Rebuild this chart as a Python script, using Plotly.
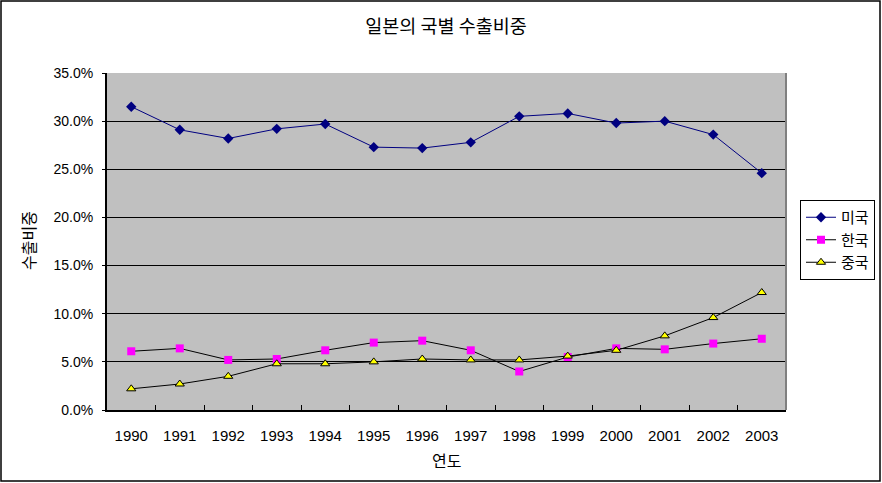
import plotly.graph_objects as go

years = ["1990", "1991", "1992", "1993", "1994", "1995", "1996",
         "1997", "1998", "1999", "2000", "2001", "2002", "2003"]
usa = [31.5, 29.1, 28.2, 29.2, 29.7, 27.3, 27.2, 27.8, 30.5, 30.8, 29.8, 30.0, 28.6, 24.6]
korea = [6.1, 6.4, 5.2, 5.3, 6.2, 7.0, 7.2, 6.2, 4.0, 5.5, 6.4, 6.3, 6.9, 7.4]
china = [2.2, 2.7, 3.5, 4.8, 4.8, 5.0, 5.3, 5.2, 5.2, 5.6, 6.2, 7.7, 9.6, 12.2]
y_ticks = [0, 5, 10, 15, 20, 25, 30, 35]

KFONT = "Noto Sans CJK KR, sans-serif"
NFONT = "Liberation Sans, Arial, sans-serif"

fig = go.Figure()
fig.add_trace(go.Scatter(
    x=years, y=usa, name="미국", mode="lines+markers",
    line=dict(color="#000080", width=1),
    marker=dict(symbol="diamond", size=8, color="#000080"),
))
fig.add_trace(go.Scatter(
    x=years, y=korea, name="한국", mode="lines+markers",
    line=dict(color="#000000", width=1),
    marker=dict(symbol="square", size=8, color="#FF00FF"),
))
fig.add_trace(go.Scatter(
    x=years, y=china, name="중국", mode="lines+markers",
    line=dict(color="#000000", width=1),
    marker=dict(symbol="triangle-up", size=8, color="#FFFF00",
                line=dict(color="#000000", width=1)),
))

L, R, T, B = 107, 96, 73, 73
W, H = 882, 483
pw, ph = W - L - R, H - T - B

def px_x(x):
    return (x - L) / pw

def px_y(y):
    return (H - B - y) / ph

fig.update_layout(
    width=W, height=H,
    margin=dict(l=L, r=R, t=T, b=B, autoexpand=False),
    paper_bgcolor="white",
    plot_bgcolor="#C0C0C0",
    font=dict(family=KFONT, size=15, color="black"),
    title=dict(text="일본의 국별 수출비중", x=px_x(446), xref="paper",
               xanchor="center", y=1 - 27 / H, yanchor="middle",
               font=dict(size=18.5, family=KFONT)),
    showlegend=True,
    legend=dict(x=px_x(800), xanchor="left", y=px_y(240), yanchor="middle",
                bgcolor="white", bordercolor="black", borderwidth=1,
                font=dict(size=15, family=KFONT), itemwidth=30),
    xaxis=dict(
        type="category", range=[-0.5, len(years) - 0.5],
        tickson="boundaries", ticks="inside", ticklen=5,
        tickcolor="black", showline=True, linecolor="black", linewidth=2,
        showgrid=False, tickfont=dict(size=15, family=NFONT), ticklabelstandoff=11,
    ),
    yaxis=dict(
        range=[0, 35], tickvals=y_ticks, ticktext=[f"{v:.1f}%" for v in y_ticks],
        ticks="outside", ticklen=3, tickcolor="black",
        showline=True, linecolor="black", linewidth=2,
        showgrid=True, gridcolor="black", gridwidth=1,
        zeroline=False, tickfont=dict(size=14, family=NFONT), ticklabelstandoff=6,
    ),
    annotations=[
        dict(text="수출비중", x=px_x(28), y=px_y(241), xref="paper", yref="paper",
             xanchor="center", yanchor="middle",
             showarrow=False, textangle=-90, font=dict(size=16, family=KFONT)),
        dict(text="연도", x=px_x(446), y=px_y(460), xref="paper", yref="paper",
             xanchor="center", yanchor="middle",
             showarrow=False, font=dict(size=16, family=KFONT)),
    ],
    shapes=[
        dict(type="line", xref="paper", yref="paper", x0=1, x1=1, y0=0, y1=1,
             line=dict(color="#808080", width=2)),
        dict(type="rect", xref="paper", yref="paper",
             x0=px_x(1), x1=px_x(880), y0=px_y(481), y1=px_y(1),
             line=dict(color="black", width=1.5)),
    ],
)

fig.write_html("out.html", config={"displayModeBar": False},
               post_script="document.body.style.margin='0';")
